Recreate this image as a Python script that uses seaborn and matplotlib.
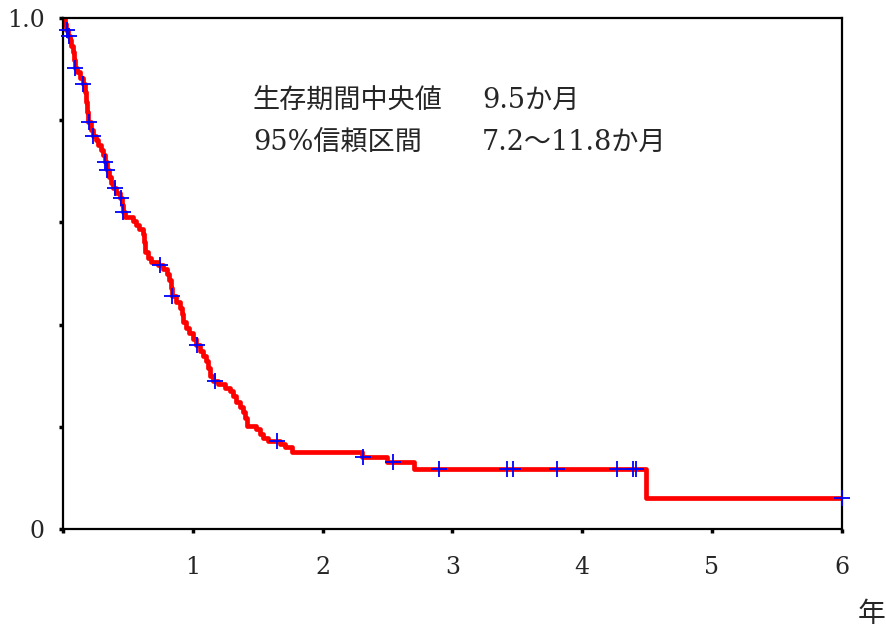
import numpy as np
import pandas as pd
import seaborn as sns
import matplotlib.pyplot as plt

# 生存曲線（年, 生存率）: 各イベント後の値
event_years = [0.0, 0.015, 0.023, 0.039, 0.054, 0.062, 0.077, 0.085, 0.092, 0.108, 0.131,
               0.154, 0.169, 0.177, 0.185, 0.193, 0.216, 0.231, 0.254, 0.270, 0.293,
               0.308, 0.323, 0.339, 0.354, 0.370, 0.385, 0.408, 0.439, 0.455, 0.462,
               0.478, 0.539, 0.562, 0.586, 0.616, 0.624, 0.632, 0.655, 0.678, 0.732,
               0.770, 0.801, 0.817, 0.832, 0.840, 0.871, 0.901, 0.917, 0.924, 0.948,
               0.971, 1.002, 1.025, 1.055, 1.079, 1.102, 1.117, 1.133, 1.156, 1.194,
               1.248, 1.287, 1.310, 1.333, 1.364, 1.387, 1.402, 1.418, 1.487, 1.518,
               1.541, 1.579, 1.672, 1.710, 1.764, 2.304, 2.496, 2.704, 4.492, 6.0]
survival = [1.0, 0.988, 0.977, 0.965, 0.957, 0.945, 0.933, 0.918, 0.902, 0.894, 0.883,
            0.871, 0.855, 0.836, 0.816, 0.796, 0.781, 0.769, 0.761, 0.751, 0.741,
            0.732, 0.718, 0.702, 0.689, 0.677, 0.667, 0.658, 0.648, 0.634, 0.620,
            0.611, 0.603, 0.595, 0.587, 0.577, 0.562, 0.542, 0.530, 0.523, 0.517,
            0.509, 0.499, 0.487, 0.472, 0.456, 0.444, 0.432, 0.421, 0.405, 0.393,
            0.384, 0.372, 0.360, 0.348, 0.339, 0.329, 0.315, 0.299, 0.290, 0.284,
            0.276, 0.270, 0.260, 0.249, 0.239, 0.229, 0.217, 0.202, 0.196, 0.186,
            0.178, 0.172, 0.166, 0.160, 0.151, 0.141, 0.131, 0.117, 0.061, 0.061]

# 打ち切り（年）
censor_years = [0.029, 0.046, 0.092, 0.154, 0.200, 0.231, 0.324, 0.339, 0.401, 0.447,
                0.462, 0.747, 0.840, 1.032, 1.171, 1.649, 2.311, 2.542, 2.897, 3.421,
                3.467, 3.806, 4.268, 4.391, 4.414, 6.0]

x_ticks = [0, 1, 2, 3, 4, 5, 6]
x_labels = ['', '1', '2', '3', '4', '5', '6']
y_ticks = [0, 0.2, 0.4, 0.6, 0.8, 1.0]
y_labels = ['0', '', '', '', '', '1.0']

line1 = ['生存期間中央値', '9.5か月']
line2 = ['95%信頼区間', '7.2〜11.8か月']

curve = pd.DataFrame({'year': event_years, 'surv': survival})
idx = np.searchsorted(event_years, censor_years, side='right') - 1
cens = pd.DataFrame({'year': censor_years, 'surv': np.array(survival)[idx]})

sns.set_style('white')
plt.rcParams['font.family'] = ['DejaVu Serif', 'Noto Sans CJK JP']

fig = plt.figure(figsize=(8.87, 6.36), dpi=100)
ax = fig.add_axes([0.071, 0.168, 0.878, 0.804])

sns.lineplot(data=curve, x='year', y='surv', ax=ax, color='#ff0000',
             linewidth=3.4, drawstyle='steps-post', estimator=None, sort=False)
sns.scatterplot(data=cens, x='year', y='surv', ax=ax, marker='+', color='#0000ff',
                s=130, linewidth=1.3, zorder=3, clip_on=False)

ax.set_xlim(0, 6)
ax.set_ylim(0, 1.0)
ax.set_xticks(x_ticks)
ax.set_xticklabels(x_labels)
ax.set_yticks(y_ticks)
ax.set_yticklabels(y_labels)
ax.set_xlabel('')
ax.set_ylabel('')

for s in ax.spines.values():
    s.set_color('black')
    s.set_linewidth(1.6)
ax.tick_params(axis='both', direction='out', length=3, width=2.5, color='black',
               labelsize=17, bottom=True, left=True)
ax.tick_params(axis='x', pad=16)
ax.tick_params(axis='y', pad=10)

cjk = ['DejaVu Serif', 'Noto Sans CJK JP']
y1, y2 = 0.838, 0.757
ax.text(0.244, y1, line1[0], transform=ax.transAxes, fontsize=19.5,
        family=['Noto Sans CJK JP'], va='center')
ax.text(0.538, y1, line1[1], transform=ax.transAxes, fontsize=19.5,
        family=cjk, va='center')
ax.text(0.244, y2, line2[0], transform=ax.transAxes, fontsize=19.5,
        family=cjk, va='center')
ax.text(0.538, y2, line2[1], transform=ax.transAxes, fontsize=19.5,
        family=cjk, va='center')

fig.text(0.998, 0.035, '年', fontsize=20, family=['Noto Sans CJK JP'],
         ha='right', va='center')

fig.savefig('out.png', dpi=100)
